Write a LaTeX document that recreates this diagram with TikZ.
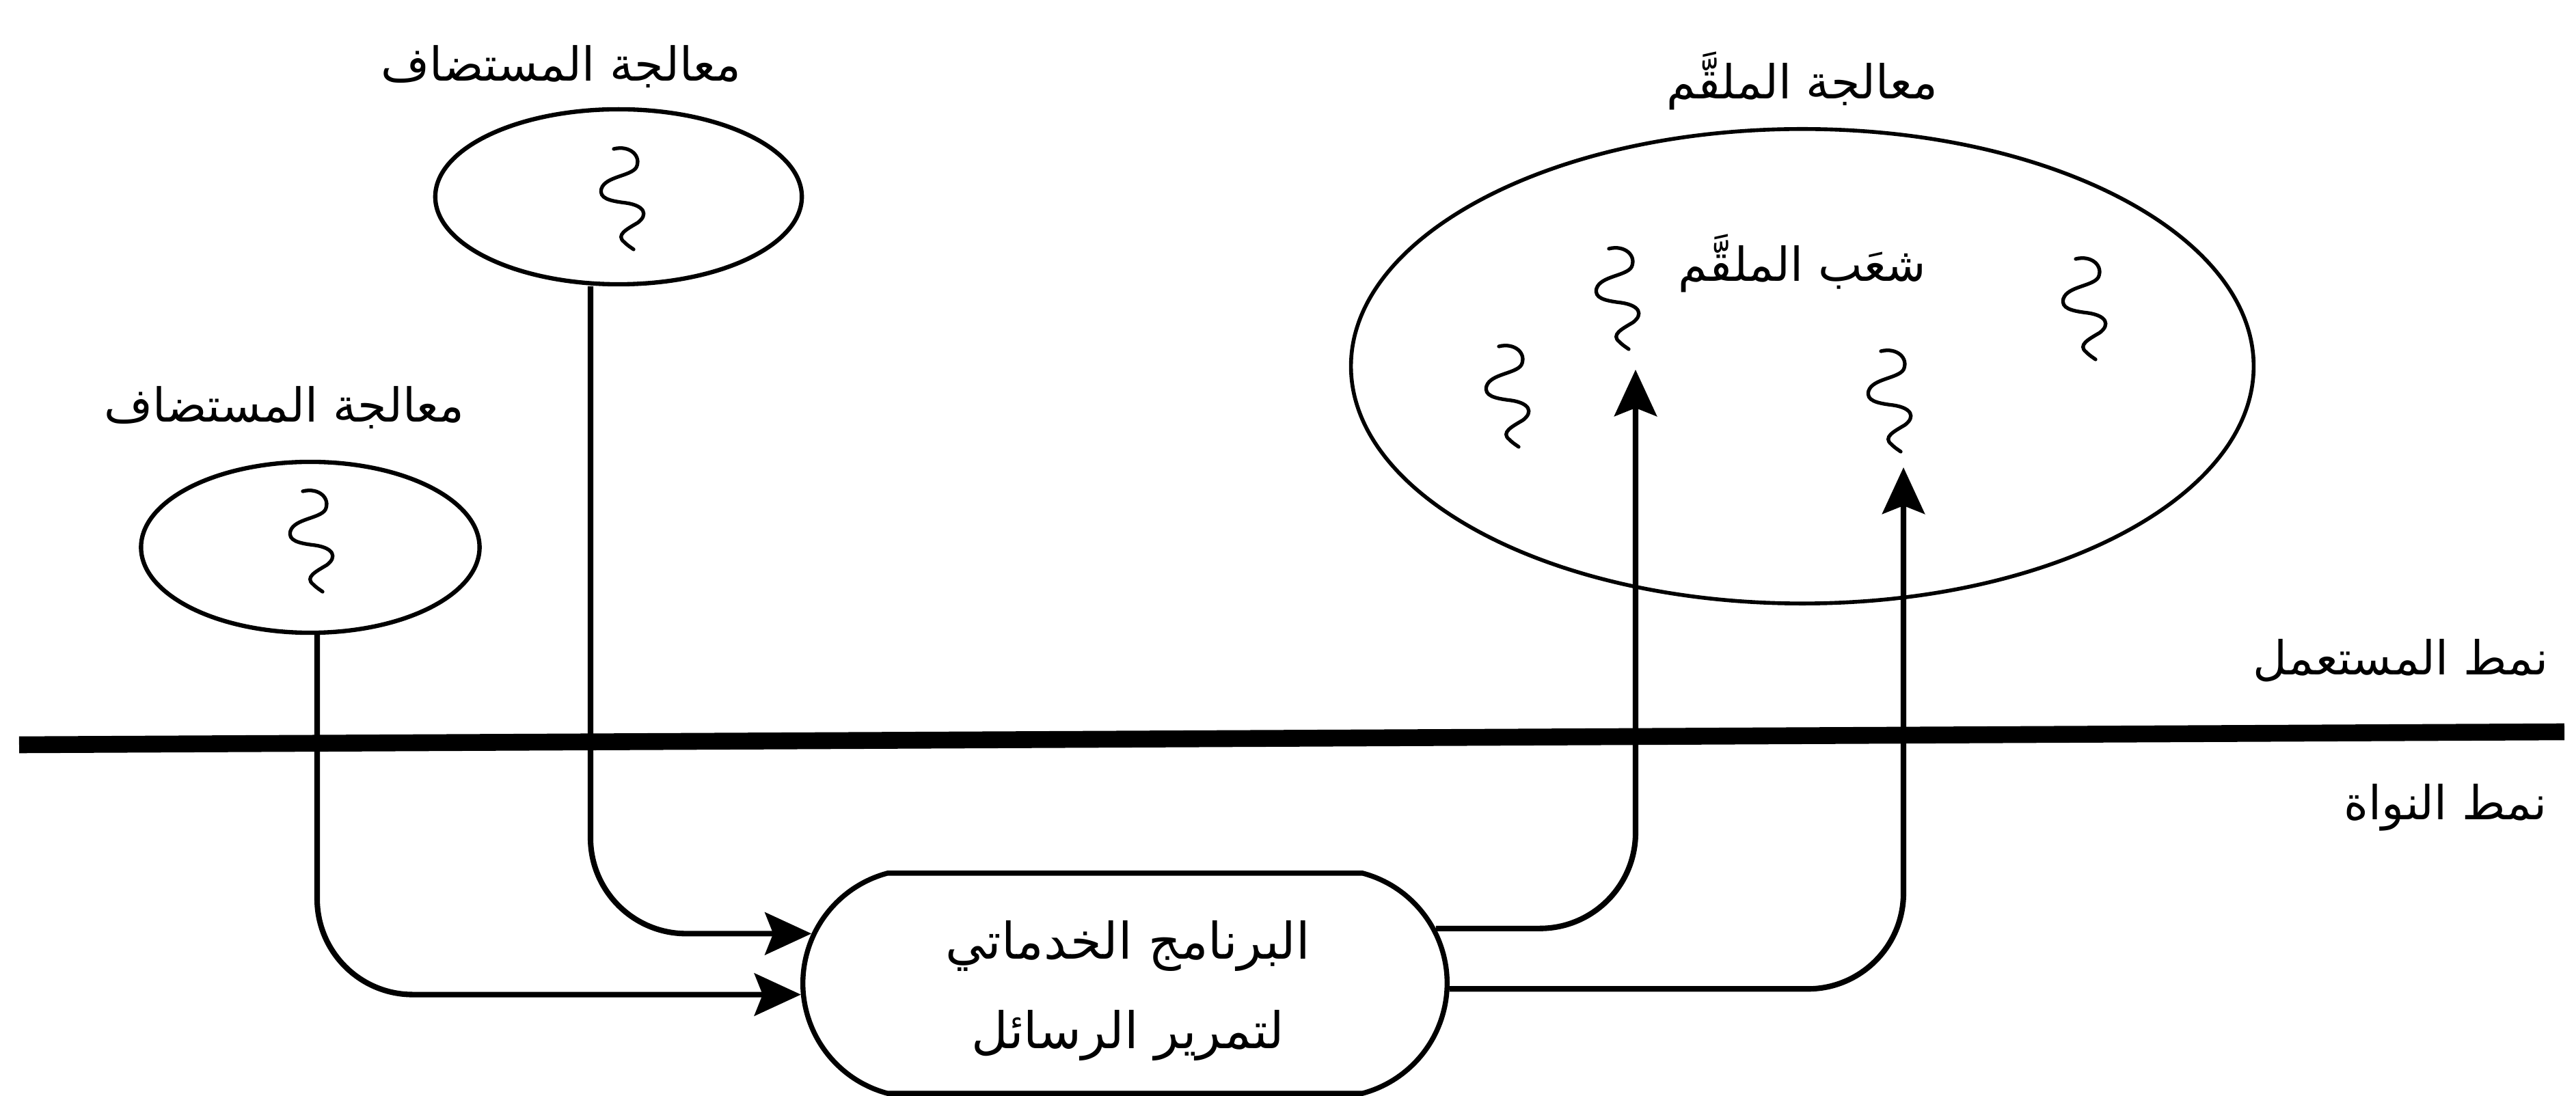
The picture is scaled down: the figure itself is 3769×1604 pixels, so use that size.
\documentclass[tikz,border=0pt]{standalone}
\usepackage{fontspec}
\usetikzlibrary{arrows.meta,shapes.geometric,shapes.misc}
\newfontfamily\arabicfont[Script=Arabic]{DejaVu Sans}
\TeXXeTstate=1
\tikzset{
  proc/.style={draw, ellipse, line width=1.8pt, inner sep=0pt},
  lbl/.style={font=\arabicfont\fontsize{19.5}{24}\selectfont, inner sep=0pt},
  boxtxt/.style={font=\arabicfont\fontsize{21}{37}\selectfont, align=center, inner sep=0pt},
  msgbox/.style={draw, line width=2.1pt, rounded rectangle, rounded rectangle arc length=150,
    minimum width=9.42cm, minimum height=3.22cm, inner sep=0pt},
  conn/.style={line width=2.3pt, rounded corners=1.4cm},
  arr/.style={-{Stealth[length=0.68cm,width=0.62cm,inset=0.12cm]}},
  wig/.style={line width=1.5pt, line cap=round},
  wiggle/.pic={\draw[wig] (-13,-72) .. controls (10,-78) and (28,-62) .. (20,-45)
     .. controls (12,-32) and (-25,-32) .. (-31,-14)
     .. controls (-35,0) and (-20,4) .. (5,7)
     .. controls (32,11) and (38,24) .. (22,36)
     .. controls (5,46) and (-10,54) .. (2,64)
     .. controls (8,70) and (12,72) .. (16,75);}
}
\begin{document}
\begin{tikzpicture}[x=0.01cm, y=-0.01cm]
\useasboundingbox (0,0) rectangle (3769,1604);

% labels
\node[lbl] (l1) at (821,97) {\beginR معالجة المستضاف\endR};
\node[lbl] (l2) at (416,596) {\beginR معالجة المستضاف\endR};
\node[lbl] (l3) at (2637,118) {\beginR معالجة الملقَّم\endR};
\node[lbl] (l4) at (2637,385) {\beginR شعَب الملقَّم\endR};
\node[lbl, anchor=east] (l5) at (3729,967) {\beginR نمط المستعمل\endR};
\node[lbl, anchor=east] (l6) at (3727,1182) {\beginR نمط النواة\endR};

% processes
\node[proc, minimum width=5.36cm, minimum height=2.56cm] (e1) at (905,288) {};
\node[proc, minimum width=4.95cm, minimum height=2.50cm] (e2) at (454,801) {};
\node[proc, line width=1.6pt, minimum width=13.2cm, minimum height=6.94cm] (e3) at (2637,536) {};

% threads
\pic at (911,290) {wiggle};
\pic at (456,791) {wiggle};
\pic at (2206,579) {wiggle};
\pic at (2367,436) {wiggle};
\pic at (2765,586) {wiggle};
\pic at (3050,451) {wiggle};

% mode separator
\coordinate (sepL) at (28,1090);
\coordinate (sepR) at (3752,1071);
\draw[line width=7pt] (sepL) -- (sepR);

% message passing server
\node[msgbox] (msg) at (1646,1439) {};
\node[boxtxt] (msgtxt) at (1650,1450)
  {\beginR البرنامج الخدماتي\endR\\\beginR لتمرير الرسائل\endR};

% targets in server process
\coordinate (t1) at (2393,541);
\coordinate (t2) at (2785,684);

% connectors
\draw[conn, arr] ([xshift=-0.41cm]e1.south) |- (msg.171);
\draw[conn, arr] ([xshift=0.1cm]e2.south) |- (msg.182);
\draw[conn, arr] (msg.10) -| (t1);
\draw[conn, arr] (msg.359) -| (t2);
\end{tikzpicture}
\end{document}
